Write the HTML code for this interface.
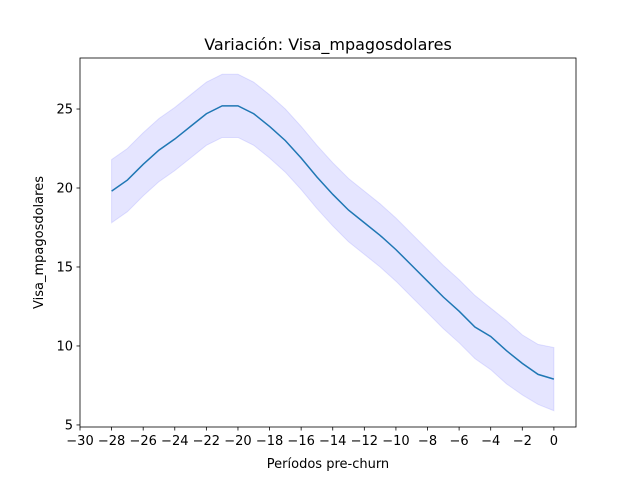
<!DOCTYPE html>
<html><head><meta charset="utf-8"><style>body{margin:0;background:#fff}svg{display:block;font-family:"DejaVu Sans","Liberation Sans",sans-serif}</style></head>
<body>
<svg id="chart" width="640" height="480"></svg>
<script>
const periods=[-28,-27,-26,-25,-24,-23,-22,-21,-20,-19,-18,-17,-16,-15,-14,-13,-12,-11,-10,-9,-8,-7,-6,-5,-4,-3,-2,-1,0];
const means=[19.8,20.5,21.5,22.4,23.1,23.9,24.7,25.2,25.2,24.7,23.9,23.0,21.9,20.7,19.6,18.6,17.8,17.0,16.1,15.1,14.1,13.1,12.2,11.2,10.6,9.7,8.9,8.2,7.9];
const upper=[21.8,22.5,23.5,24.4,25.1,25.9,26.7,27.2,27.2,26.7,25.9,25.0,23.9,22.7,21.6,20.6,19.8,19.0,18.1,17.1,16.1,15.1,14.2,13.2,12.4,11.6,10.7,10.1,9.9];
const lower=[17.8,18.5,19.5,20.4,21.1,21.9,22.7,23.2,23.2,22.7,21.9,21.0,19.9,18.7,17.6,16.6,15.8,15.0,14.1,13.1,12.1,11.1,10.2,9.2,8.5,7.6,6.9,6.3,5.9];
const xTicks=[-30,-28,-26,-24,-22,-20,-18,-16,-14,-12,-10,-8,-6,-4,-2,0];
const yTicks=[5,10,15,20,25];
const L=80,R=576,T=58,B=427;
const x0=-30,x1=1.4,y0=4.87,y1=28.23;
const sx=v=>L+(v-x0)/(x1-x0)*(R-L);
const sy=v=>B-(v-y0)/(y1-y0)*(B-T);
const svg=document.getElementById('chart');
const NS='http://www.w3.org/2000/svg';
function mk(t,a,p){const e=document.createElementNS(NS,t);for(const k in a)e.setAttribute(k,a[k]);(p||svg).appendChild(e);return e;}
let d=periods.map((p,i)=>(i?'L':'M')+sx(p)+','+sy(upper[i])).join('');
for(let i=periods.length-1;i>=0;i--)d+='L'+sx(periods[i])+','+sy(lower[i]);
const band=mk('path',{d:d+'Z',fill:'#0000ff','fill-opacity':0.1,stroke:'#0000ff','stroke-opacity':0.1});


const line=mk('path',{d:periods.map((p,i)=>(i?'L':'M')+sx(p)+','+sy(means[i])).join(''),fill:'none',stroke:'#1f77b4','stroke-width':1.5});


const frame=mk('rect',{x:L,y:T,width:R-L,height:B-T,fill:'none',stroke:'#000','stroke-width':0.8});


xTicks.forEach(v=>{const X=sx(v);mk('line',{x1:X,x2:X,y1:B,y2:B+3.5,stroke:'#000','stroke-width':0.8});
const t=mk('text',{x:X,y:B+18,'text-anchor':'middle','font-size':13});t.textContent=(v<0?'\u2212'+(-v):v);

});
yTicks.forEach(v=>{const Y=sy(v);mk('line',{x1:L,x2:L-3.5,y1:Y,y2:Y,stroke:'#000','stroke-width':0.8});
const t=mk('text',{x:L-7,y:Y+4.5,'text-anchor':'end','font-size':13});t.textContent=v;

});
const xt=mk('text',{x:(L+R)/2,y:468,'text-anchor':'middle','font-size':13});xt.textContent='Períodos pre-churn';


const yt=mk('text',{x:43,y:(T+B)/2,'text-anchor':'middle','font-size':13,transform:'rotate(-90 43 '+((T+B)/2)+')'});yt.textContent='Visa_mpagosdolares';


const ti=mk('text',{x:(L+R)/2,y:50,'text-anchor':'middle','font-size':16});ti.textContent='Variación: Visa_mpagosdolares';


</script>
</body></html>
